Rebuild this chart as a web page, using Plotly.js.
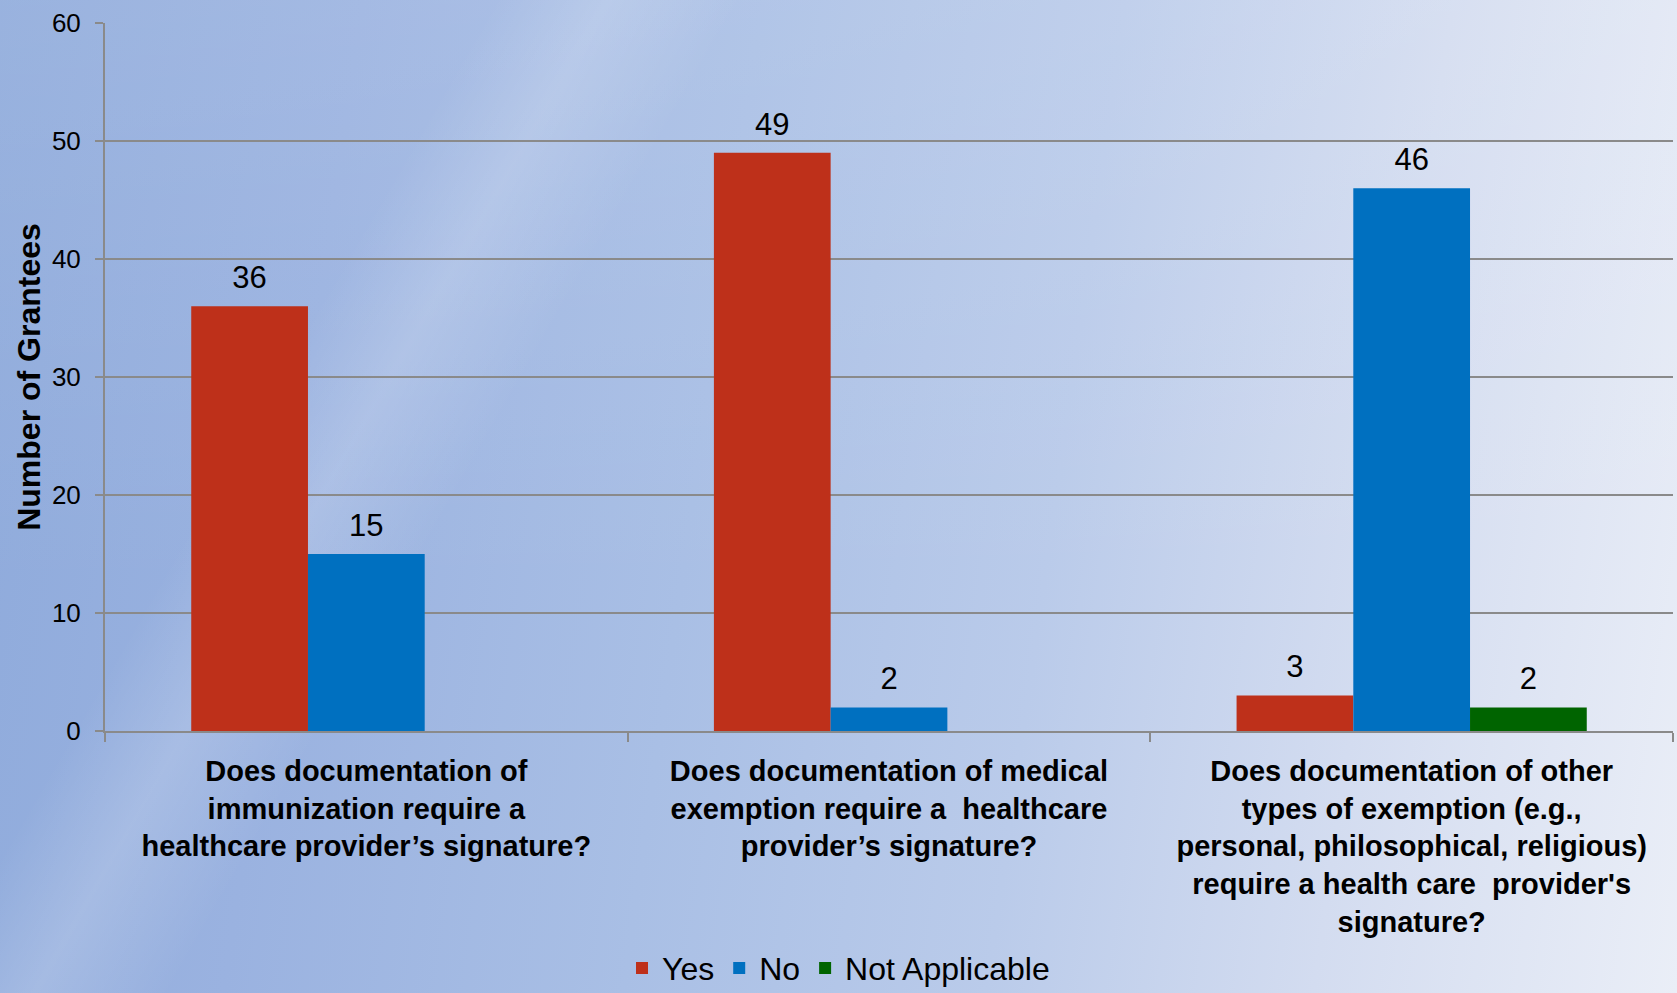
<!DOCTYPE html>
<html>
<head>
<meta charset="utf-8">
<script src="https://cdn.plot.ly/plotly-3.0.1.min.js"></script>
<style>
  html, body { margin: 0; padding: 0; }
  #wrap {
    width: 1677px; height: 993px; position: relative; overflow: hidden;
    background:
      linear-gradient(120deg, rgba(255,255,255,0) 22%, rgba(255,255,255,0.16) 27%, rgba(255,255,255,0) 33%),
      linear-gradient(180deg, rgba(255,255,255,0.10) 0%, rgba(255,255,255,0) 60%),
      linear-gradient(98deg, #8EAADB 0%, #9AB2E0 20%, #A9BFE5 42%, #BACBEA 62%, #D3DCF0 80%, #EAEEF7 100%);
  }
  #chart { width: 1677px; height: 993px; }
</style>
</head>
<body>
<div id="wrap"><div id="chart"></div></div>
<script>
const categories = [
  "Does documentation of<br>immunization require a<br>healthcare provider’s signature?",
  "Does documentation of medical<br>exemption require a  healthcare<br>provider’s signature?",
  "Does documentation of other<br>types of exemption (e.g.,<br>personal, philosophical, religious)<br>require a health care  provider's<br>signature?"
];
const seriesNames = ["Yes", "No", "Not Applicable"];
const yesValues = [36, 49, 3];
const noValues = [15, 2, 46];
const naValues = [null, null, 2];
const yTickValues = [0, 10, 20, 30, 40, 50, 60];

const colors = ["#BE301A", "#0070C0", "#006400"];
const FONT = "Liberation Sans, Arial, sans-serif";

function bar(name, vals, color) {
  return {
    type: "bar", name: name, x: categories, y: vals,
    marker: { color: color, line: { width: 0 } },
    hoverinfo: "skip"
  };
}
function labels(name, vals) {
  return {
    type: "scatter", mode: "markers+text", name: name, showlegend: false,
    x: categories, y: vals,
    text: vals.map(v => v === null ? "" : String(v)),
    textposition: "top center", cliponaxis: false,
    marker: { size: 15, color: "rgba(0,0,0,0)" },
    textfont: { family: FONT, size: 31, color: "#000" },
    hoverinfo: "skip"
  };
}

const data = [
  bar(seriesNames[0], yesValues, colors[0]),
  bar(seriesNames[1], noValues, colors[1]),
  bar(seriesNames[2], naValues, colors[2]),
  labels(seriesNames[0], yesValues),
  labels(seriesNames[1], noValues),
  labels(seriesNames[2], naValues)
];

const layout = {
  width: 1677, height: 993,
  paper_bgcolor: "rgba(0,0,0,0)", plot_bgcolor: "rgba(0,0,0,0)",
  margin: { l: 105, r: 4, t: 23, b: 262 },
  barmode: "group", bargap: 0.33, bargroupgap: 0,
  scattermode: "group", scattergap: 0.33,
  font: { family: FONT, color: "#000" },
  xaxis: {
    showline: true, linecolor: "#8a8a8a", linewidth: 2,
    ticks: "outside", tickson: "boundaries", ticklen: 9, tickwidth: 2, tickcolor: "#8a8a8a",
    tickfont: { family: FONT, size: 29, color: "#000", weight: "bold" },
    ticklabelstandoff: 13,
    showgrid: false, zeroline: false, automargin: false
  },
  yaxis: {
    range: [0, 60], tickvals: yTickValues, ticktext: yTickValues.map(String),
    showline: true, linecolor: "#8a8a8a", linewidth: 2,
    ticks: "outside", ticklen: 8, tickwidth: 2, tickcolor: "#8a8a8a",
    showgrid: true, gridcolor: "#8a8a8a", gridwidth: 2,
    zeroline: false, automargin: false,
    tickfont: { family: FONT, size: 26, color: "#000" },
    ticklabelstandoff: 9,
    title: { text: "<b>Number of Grantees</b>", font: { family: FONT, size: 32, color: "#000" }, standoff: 2 }
  },
  showlegend: true,
  legend: {
    orientation: "h", xref: "container", yref: "container",
    x: 0.5, xanchor: "center", y: 0.025, yanchor: "middle",
    bgcolor: "rgba(0,0,0,0)", borderwidth: 0,
    font: { family: FONT, size: 32, color: "#000" },
    itemwidth: 30, tracegroupgap: 0
  }
};

Plotly.newPlot("chart", data, layout, { displayModeBar: false, staticPlot: true });
</script>
</body>
</html>
